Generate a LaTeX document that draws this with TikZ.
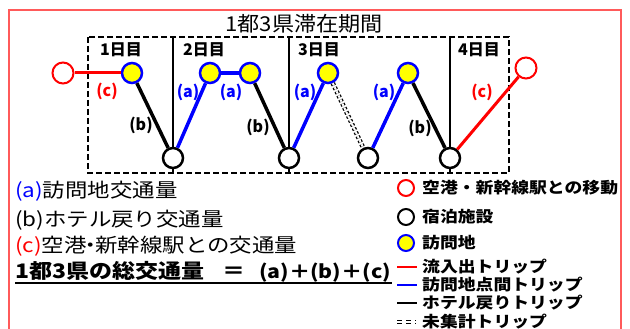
\documentclass[tikz,border=0pt]{standalone}
\usepackage{fontspec}
\setmainfont{Noto Sans CJK JP}
\newfontfamily\wide[FakeStretch=1.15]{Noto Sans CJK JP}
\newfontfamily\titlef[FakeStretch=1.08]{Noto Sans CJK JP}
\definecolor{tred}{RGB}{255,0,0}
\definecolor{tblue}{RGB}{0,0,255}
\definecolor{tyellow}{RGB}{255,255,0}
\definecolor{frame}{RGB}{255,90,90}
\begin{document}
\begin{tikzpicture}[x=1pt,y=-1pt,
  visit/.style={circle,draw=tblue,fill=tyellow,line width=2.5pt,minimum size=20pt,inner sep=0pt},
  hotel/.style={circle,draw=black,fill=white,line width=2.5pt,minimum size=20pt,inner sep=0pt},
  port/.style={circle,draw=tred,fill=white,line width=2pt,minimum size=21pt,inner sep=0pt},
  ltrip/.style={line width=3.5pt},
  untrip/.style={black,line width=1.3pt,double distance=2pt,dash pattern=on 2.5pt off 2pt},
  daylbl/.style={font=\bfseries\fontsize{16}{18}\selectfont,inner sep=0pt},
  triplbl/.style={font=\bfseries\fontsize{16}{18}\selectfont,inner sep=0pt},
  legl/.style={anchor=west,inner sep=0pt,font=\wide\fontsize{19.5}{22}\selectfont},
  legr/.style={anchor=west,inner sep=0pt,font=\wide\bfseries\fontsize{15.5}{17}\selectfont},
  lsym/.style={circle,line width=2pt,minimum size=16pt,inner sep=0pt}
]
\useasboundingbox (0,0) rectangle (630,329);
\fill[white] (0,0) rectangle (630,329);
\draw[frame,line width=1.5pt] (9,340) -- (9,10) -- (621,10) -- (621,340);

% title
\node[inner sep=0pt,font=\titlef\fontsize{20.5}{23}\selectfont] (title) at (304,24) {1都3県滞在期間};

% period box and day dividers
\draw[line width=2pt,dash pattern=on 6pt off 3pt] (88,37) rectangle (509,173);
\coordinate (d1t) at (173,37); \coordinate (d1b) at (173,173);
\coordinate (d2t) at (289,37); \coordinate (d2b) at (289,173);
\coordinate (d3t) at (450,37); \coordinate (d3b) at (450,173);
\draw[line width=1.5pt] (d1t) -- (d1b);
\draw[line width=1.5pt] (d2t) -- (d2b);
\draw[line width=1.5pt] (d3t) -- (d3b);

\node[daylbl] (day1) at (121,50) {1日目};
\node[daylbl] (day2) at (204,50) {2日目};
\node[daylbl] (day3) at (319,50) {3日目};
\node[daylbl] (day4) at (479,50) {4日目};

% nodes
\node[port] (pin) at (63,73) {};
\node[visit] (v1) at (132,73) {};
\node[hotel] (h1) at (173,158) {};
\node[visit] (v2a) at (210,73) {};
\node[visit] (v2b) at (250,73) {};
\node[hotel] (h2) at (289,158) {};
\node[visit] (v3a) at (328,73) {};
\node[hotel] (h3) at (368,158) {};
\node[visit] (v3b) at (408,73) {};
\node[hotel] (h4) at (450,158) {};
\node[port] (pout) at (526,68) {};

% trips
\draw[tred,line width=3pt] (pin) -- (v1);
\draw[ltrip,black] (v1) -- (h1);
\draw[ltrip,tblue] (h1) -- (v2a);
\draw[ltrip,tblue] (v2a) -- (v2b);
\draw[ltrip,black] (v2b) -- (h2);
\draw[ltrip,tblue] (h2) -- (v3a);
\draw[untrip] (v3a) -- (h3);
\draw[ltrip,tblue] (h3) -- (v3b);
\draw[ltrip,black] (v3b) -- (h4);
\draw[tred,line width=3pt] (h4) -- (pout);

% trip labels
\node[triplbl,tred] (lc1) at (107,91) {(c)};
\node[triplbl] (lb1) at (141,125) {(b)};
\node[triplbl,tblue] (la1) at (188,92) {(a)};
\node[triplbl,tblue] (la2) at (231,92) {(a)};
\node[triplbl] (lb2) at (258,127) {(b)};
\node[triplbl,tblue] (la3) at (305,92) {(a)};
\node[triplbl,tblue] (la4) at (384,92) {(a)};
\node[triplbl] (lb3) at (420,128) {(b)};
\node[triplbl,tred] (lc2) at (482,92) {(c)};

% left legend
\node[legl] (ta) at (15,191) {\textcolor{tblue}{(a)}訪問地交通量};
\node[legl] (tb) at (15,220) {(b)ホテル戻り交通量};
\node[legl] (tc) at (15,246) {\textcolor{tred}{(c)}空港\makebox[0.45em]{・}新幹線駅との交通量};
\node[legl,font=\wide\bfseries\fontsize{20}{22}\selectfont] (tot) at (15,272) {1都3県の総交通量\hspace{18pt}＝\hspace{14pt}{\fontsize{18.5}{22}\selectfont (a)＋(b)＋(c)}};
\coordinate (ul1) at (15,283); \coordinate (ul2) at (392,283);
\draw[line width=1.5pt] (ul1) -- (ul2);

% right legend
\node[lsym,draw=tred,fill=white] (sp) at (406,188) {};
\node[legr] (tp) at (422,188) {空港・新幹線駅との移動};
\node[lsym,draw=black,fill=white] (sh) at (406,217) {};
\node[legr] (th) at (422,217) {宿泊施設};
\node[lsym,draw=tblue,fill=tyellow] (sv) at (406,243) {};
\node[legr] (tv) at (422,243) {訪問地};
\coordinate (r1a) at (397,267); \coordinate (r1b) at (417,267);
\draw[tred,line width=2.5pt] (r1a) -- (r1b);
\node[legr] (t1) at (422,267) {流入出トリップ};
\coordinate (r2a) at (397,285); \coordinate (r2b) at (417,285);
\draw[tblue,line width=2.5pt] (r2a) -- (r2b);
\node[legr] (t2) at (422,285) {訪問地点間トリップ};
\coordinate (r3a) at (397,303); \coordinate (r3b) at (417,303);
\draw[black,line width=2.5pt] (r3a) -- (r3b);
\node[legr] (t3) at (422,303) {ホテル戻りトリップ};
\coordinate (r4a) at (397,322); \coordinate (r4b) at (416,322);
\draw[black,line width=1.3pt,double distance=2pt,dash pattern=on 5pt off 4pt] (r4a) -- (r4b);
\node[legr] (t4) at (422,322) {未集計トリップ};
\end{tikzpicture}
\end{document}
